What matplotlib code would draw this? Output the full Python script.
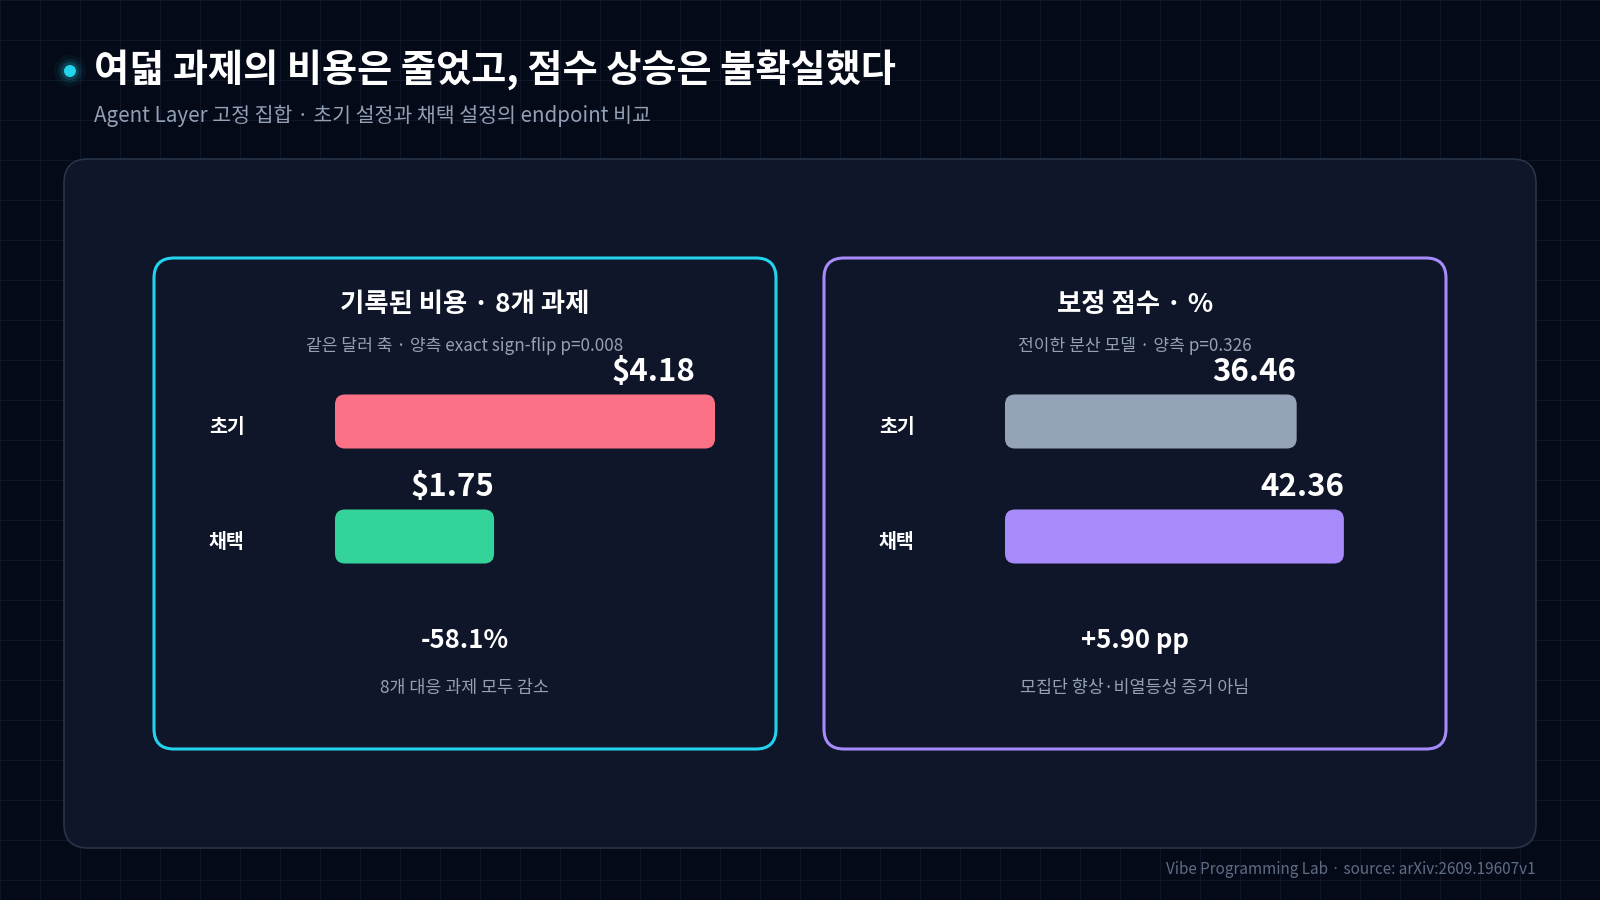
import matplotlib
matplotlib.use("Agg")
import matplotlib.pyplot as plt
import matplotlib.transforms as mtransforms
from matplotlib.patches import FancyBboxPatch, Circle

plt.rcParams['font.family'] = ['Noto Sans CJK KR', 'DejaVu Sans']

# --- data ---
title = "여덟 과제의 비용은 줄었고, 점수 상승은 불확실했다"
subtitle = "Agent Layer 고정 집합 · 초기 설정과 채택 설정의 endpoint 비교"
footer = "Vibe Programming Lab · source: arXiv:2609.19607v1"

categories = ['초기', '채택']
cost_values = [4.18, 1.75]
score_values = [36.46, 42.36]
cost_labels = ['$4.18', '$1.75']
score_labels = ['36.46', '42.36']

panel_titles = ['기록된 비용 · 8개 과제', '보정 점수 · %']
panel_subtitles = ['같은 달러 축 · 양측 exact sign-flip p=0.008',
                   '전이한 분산 모델 · 양측 p=0.326']
panel_deltas = ['-58.1%', '+5.90 pp']
panel_notes = ['8개 대응 과제 모두 감소', '모집단 향상·비열등성 증거 아님']
axis_max = [4.4, 50]

# --- style ---
BG = '#050a18'
GRID = '#0f1627'
PANEL = '#0f1629'
PANEL_EDGE = '#283447'
MUTED = '#94a0b4'
FOOT = '#5f6d84'
CYAN = '#22d3ee'
PURPLE = '#a78bfa'
bar_colors = [['#fb7185', '#34d399'], ['#94a3b8', '#a78bfa']]
card_edges = [CYAN, PURPLE]

W, H = 1600, 900
fig = plt.figure(figsize=(16, 9), dpi=100, facecolor=BG)

# full-figure canvas in pixel coords (y down)
bg = fig.add_axes([0, 0, 1, 1])
bg.set_xlim(0, W)
bg.set_ylim(H, 0)
bg.axis('off')

for gx in range(0, W + 1, 40):
    bg.axvline(gx, color=GRID, lw=0.8, zorder=0)
for gy in range(0, H + 1, 40):
    bg.axhline(gy, color=GRID, lw=0.8, zorder=0)

# title with glowing dot
for r, a in [(16, 0.05), (12, 0.09), (9, 0.16)]:
    bg.add_patch(Circle((70, 71), r, color=CYAN, alpha=a, lw=0, zorder=2))
bg.add_patch(Circle((70, 71), 6, color=CYAN, lw=0, zorder=3))
bg.text(94, 70, title, fontsize=27.5, fontweight='heavy', color='white',
        ha='left', va='center', zorder=3)
bg.text(94, 116, subtitle, fontsize=14.8, color=MUTED, ha='left', va='center', zorder=3)

# outer panel
bg.add_patch(FancyBboxPatch((64, 159), 1472, 689, boxstyle="round,pad=0,rounding_size=24",
                            facecolor=PANEL, edgecolor=PANEL_EDGE, lw=1.2, zorder=1))

card_x = [154, 824]
card_w, card_top, card_h = 622, 258, 491
bar_left = [335, 1005]
bar_w_px = 400
bar_top, bar_h_px = 364, 230

series = [cost_values, score_values]
labels = [cost_labels, score_labels]

for k in range(2):
    x0 = card_x[k]
    cx = x0 + card_w / 2
    bg.add_patch(FancyBboxPatch((x0, card_top), card_w, card_h,
                                boxstyle="round,pad=0,rounding_size=20",
                                facecolor=PANEL, edgecolor=card_edges[k], lw=2.2, zorder=2))
    bg.text(cx, 304, panel_titles[k], fontsize=19, fontweight='bold', color='white',
            ha='center', va='center', zorder=3)
    bg.text(cx, 346, panel_subtitles[k], fontsize=12.3, color=MUTED,
            ha='center', va='center', zorder=3)
    bg.text(cx, 640, panel_deltas[k], fontsize=18.5, fontweight='bold', color='white',
            ha='center', va='center', zorder=3)
    bg.text(cx, 688, panel_notes[k], fontsize=12.5, color=MUTED,
            ha='center', va='center', zorder=3)

    ax = fig.add_axes([bar_left[k] / W, 1 - (bar_top + bar_h_px) / H,
                       bar_w_px / W, bar_h_px / H])
    ax.set_facecolor('none')
    ax.set_xlim(0, axis_max[k])
    ax.set_ylim(1.5, -0.5)
    ax.axis('off')

    bh = 0.47
    bars = ax.barh(range(len(categories)), series[k], height=bh, color=bar_colors[k])
    fig.canvas.draw()
    inv = bg.transData.inverted()
    for rect, col in zip(bars, bar_colors[k]):
        ext = rect.get_window_extent()
        (px0, py0), (px1, py1) = inv.transform([[ext.x0, ext.y0], [ext.x1, ext.y1]])
        bg.add_patch(FancyBboxPatch((min(px0, px1), min(py0, py1)),
                                    abs(px1 - px0), abs(py1 - py0),
                                    boxstyle="round,pad=0,rounding_size=10",
                                    facecolor=col, edgecolor='none', zorder=4))
        rect.set_visible(False)

    lab_tr = mtransforms.blended_transform_factory(ax.transAxes, ax.transData)
    for i, (cat, v, lab) in enumerate(zip(categories, series[k], labels[k])):
        ax.text(-0.315, i + 0.055, cat, transform=lab_tr, fontsize=14, fontweight='bold',
                color='white', ha='left', va='center')
        ax.annotate(lab, xy=(min(v, 0.9 * axis_max[k]), i - bh / 2), xytext=(0, 9.5),
                    textcoords='offset points', ha='right', va='baseline',
                    fontsize=22.5, fontweight='bold', color='white', annotation_clip=False)

bg.text(1536, 869, footer, fontsize=11, color=FOOT, ha='right', va='center', zorder=3)

fig.savefig('out.png', dpi=100, facecolor=BG)
